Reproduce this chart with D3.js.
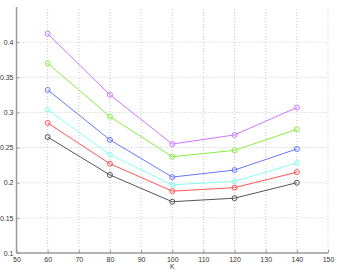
<!DOCTYPE html>
<html>
<head>
<meta charset="utf-8">
<script src="https://cdn.jsdelivr.net/npm/d3@7"></script>
<style>
  body { margin: 0; background: #fff; }
  text { font-family: "Liberation Sans", Arial, sans-serif; }
</style>
</head>
<body>
<svg id="chart"></svg>
<script>
const kValues = [60, 80, 100, 120, 140];
const purple = [0.412, 0.325, 0.255, 0.268, 0.307];
const green  = [0.370, 0.294, 0.237, 0.246, 0.276];
const blue   = [0.332, 0.261, 0.208, 0.218, 0.248];
const cyan   = [0.304, 0.240, 0.197, 0.202, 0.228];
const red    = [0.285, 0.227, 0.188, 0.193, 0.215];
const black  = [0.265, 0.211, 0.173, 0.178, 0.200];
const xTicks = [50, 60, 70, 80, 90, 100, 110, 120, 130, 140, 150];
const yTicks = [0.1, 0.15, 0.2, 0.25, 0.3, 0.35, 0.4];

const series = [
    { values: purple, color: "#cc77ff" },
    { values: green, color: "#88ee44" },
    { values: blue, color: "#6677ff" },
    { values: cyan, color: "#88ffee" },
    { values: red, color: "#ff5555" },
    { values: black, color: "#555555" }
];

const width = 337, height = 273;
const margin = { top: 7, bottom: 20, left: 16.5, right: 9 };

const svg = d3.select("#chart")
    .attr("width", width)
    .attr("height", height);

const x = d3.scaleLinear()
    .domain([50, 150])
    .range([margin.left, width - margin.right]);

const y = d3.scaleLinear()
    .domain([0.1, 0.45])
    .range([height - margin.bottom, margin.top]);

// dotted grid
svg.append("g")
    .selectAll("line")
    .data(xTicks.slice(1))
    .enter().append("line")
    .attr("x1", d => x(d)).attr("x2", d => x(d))
    .attr("y1", y(0.1)).attr("y2", margin.top)
    .attr("stroke", "#bbb")
    .attr("stroke-width", 0.8)
    .attr("stroke-dasharray", "1,2");

svg.append("g")
    .selectAll("line")
    .data(yTicks.slice(1))
    .enter().append("line")
    .attr("x1", x(50)).attr("x2", x(150))
    .attr("y1", d => y(d)).attr("y2", d => y(d))
    .attr("stroke", "#bbb")
    .attr("stroke-width", 0.8)
    .attr("stroke-dasharray", "1,2");

// axes
const xAxis = svg.append("g")
    .attr("transform", `translate(0,${y(0.1)})`)
    .call(d3.axisBottom(x).tickValues(xTicks).tickSize(-3).tickPadding(4).tickFormat(d3.format("d")));

const yAxis = svg.append("g")
    .attr("transform", `translate(${x(50)},0)`)
    .call(d3.axisLeft(y).tickValues(yTicks).tickSize(-3).tickPadding(3).tickFormat(d => String(d)));

[xAxis, yAxis].forEach(g => {
    g.select(".domain").attr("stroke", "#999").attr("stroke-width", 1.5);
    g.selectAll(".tick line").attr("stroke", "#999");
    g.selectAll("text").attr("fill", "#333").style("font-size", "7px");
});
yAxis.select(".domain").attr("d", `M0,${y(0.1)}V${margin.top}`);
xAxis.select(".domain").attr("d", `M${x(50)},0H${x(150)}`);

svg.append("text")
    .attr("x", x(100))
    .attr("y", 269)
    .attr("text-anchor", "middle")
    .attr("fill", "#333")
    .style("font-size", "7px")
    .text("K");

const line = d3.line()
    .x((d, i) => x(kValues[i]))
    .y(d => y(d));

series.forEach(s => {
    svg.append("path")
        .datum(s.values)
        .attr("d", line)
        .attr("fill", "none")
        .attr("stroke", s.color)
        .attr("stroke-width", 1);
    svg.append("g")
        .selectAll("circle")
        .data(s.values)
        .enter().append("circle")
        .attr("cx", (d, i) => x(kValues[i]))
        .attr("cy", d => y(d))
        .attr("r", 2.5)
        .attr("fill", "none")
        .attr("stroke", s.color)
        .attr("stroke-width", 1);
});
</script>
</body>
</html>
